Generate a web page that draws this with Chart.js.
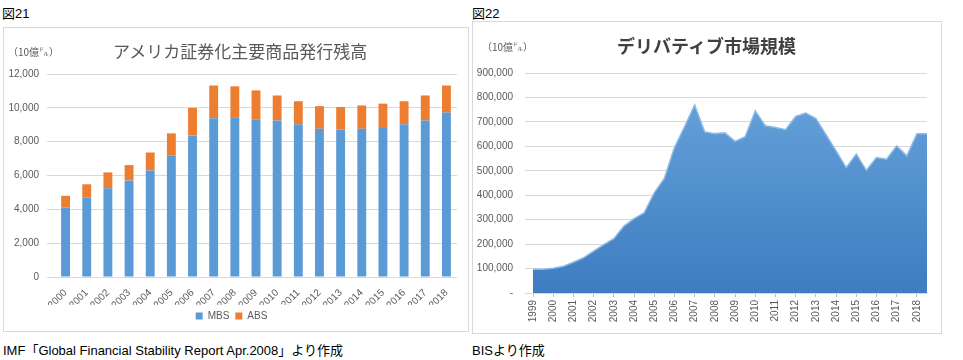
<!DOCTYPE html>
<html lang="ja">
<head>
<meta charset="UTF-8" />
<title>図21・図22</title>
<script src="https://cdn.jsdelivr.net/npm/chart.js"></script>
<style>
  body { margin: 0; width: 963px; height: 360px; background: #fff; position: relative; overflow: hidden;
         font-family: "Liberation Sans", "Noto Sans CJK JP", sans-serif; }
  .abs { position: absolute; white-space: nowrap; }
  .panel { position: absolute; border: 1px solid #d9d9d9; box-sizing: border-box; }
  .fig { font-size: 13px; color: #000; }
  .unit { font-size: 10px; color: #595959; font-family: "Noto Sans CJK JP", sans-serif; }
  .note { font-size: 13px; color: #000; }
  canvas { position: absolute; }
</style>
</head>
<body>
  <div class="abs fig" style="left:2px; top:3px;">図21</div>
  <div class="abs fig" style="left:472px; top:3px;">図22</div>

  <div class="panel" style="left:3px; top:27px; width:466px; height:305px;"></div>
  <div class="panel" style="left:472px; top:21px; width:470px; height:313px;"></div>

  <canvas id="chart21" width="466" height="305" style="left:3px; top:27px;"></canvas>
  <canvas id="chart22" width="470" height="313" style="left:472px; top:21px;"></canvas>

  <div class="abs unit" style="left:8px; top:44px;">（10億㌦）</div>
  <div class="abs" style="left:113px; top:38px; font-size:17px; color:#595959; font-family:'Noto Sans CJK JP';">アメリカ証券化主要商品発行残高</div>

  <div class="abs unit" style="left:482px; top:39px;">（10億㌦）</div>
  <div class="abs" style="left:617px; top:32px; font-size:18px; font-weight:bold; color:#404040; font-family:'Noto Sans CJK JP';">デリバティブ市場規模</div>

  <div class="abs note" style="left:3px; top:340px;">IMF「Global Financial Stability Report Apr.2008」より作成</div>
  <div class="abs note" style="left:472px; top:340px;">BISより作成</div>

<script>
  // 図21: アメリカ証券化主要商品発行残高（10億ドル）
  const years21 = ['2000', '2001', '2002', '2003', '2004', '2005', '2006', '2007', '2008', '2009',
                   '2010', '2011', '2012', '2013', '2014', '2015', '2016', '2017', '2018']
  const mbs = [4100, 4690, 5240, 5710, 6300, 7170, 8370, 9390, 9410, 9330,
               9250, 9030, 8760, 8720, 8760, 8810, 9030, 9250, 9720]
  const abs = [700, 790, 945, 905, 1060, 1320, 1630, 1930, 1860, 1700,
               1480, 1360, 1340, 1330, 1380, 1440, 1360, 1480, 1600]

  // 図22: デリバティブ市場規模（半期, 10億ドル）
  const periods22 = ['1999', '', '2000', '', '2001', '', '2002', '', '2003', '', '2004', '', '2005', '',
                     '2006', '', '2007', '', '2008', '', '2009', '', '2010', '', '2011', '', '2012', '',
                     '2013', '', '2014', '', '2015', '', '2016', '', '2017', '', '2018', '']
  const derivatives = [97000, 97000, 101000, 109000, 126000, 144000, 171000, 198000, 222000, 274000,
                       304000, 328000, 410000, 469000, 595000, 680000, 769000, 659000, 652000, 655000,
                       620000, 639000, 745000, 684000, 677000, 668000, 722000, 736000, 714000, 648000,
                       581000, 513000, 568000, 502000, 554000, 547000, 602000, 561000, 651000, 651000]

  const tickFont = { family: 'Liberation Sans', size: 10 }
  const tickColor = '#595959'
  const gridColor = '#d9d9d9'

  new Chart(document.getElementById('chart21'), {
    type: 'bar',
    data: {
      labels: years21,
      datasets: [
        { label: 'MBS', data: mbs, backgroundColor: '#5b9bd5', barPercentage: 0.42, categoryPercentage: 1 },
        { label: 'ABS', data: abs, backgroundColor: '#ed7d31', barPercentage: 0.42, categoryPercentage: 1 },
      ],
    },
    options: {
      responsive: false,
      animation: false,
      layout: { padding: { left: 3, right: 12, top: 47, bottom: 1 } },
      plugins: {
        legend: {
          position: 'bottom',
          labels: { boxWidth: 7, boxHeight: 7, padding: 6, color: tickColor, font: tickFont },
        },
        tooltip: { enabled: false },
      },
      scales: {
        x: {
          stacked: true,
          grid: { display: false },
          border: { display: false },
          ticks: { autoSkip: false, maxRotation: 45, minRotation: 45, padding: 2, color: tickColor, font: tickFont },
          afterFit: (s) => { s.height = 28 },
        },
        y: {
          stacked: true,
          min: 0,
          max: 12000,
          grid: { color: gridColor },
          border: { display: false },
          ticks: { stepSize: 2000, padding: 8, color: tickColor, font: tickFont,
                   callback: (v) => v.toLocaleString('en-US') },
          afterFit: (s) => { s.width = 49 },
        },
      },
    },
  })

  new Chart(document.getElementById('chart22'), {
    type: 'line',
    data: {
      labels: periods22,
      datasets: [
        {
          label: 'デリバティブ',
          data: derivatives,
          fill: 'origin',
          pointRadius: 0,
          borderWidth: 1.5,
          borderColor: '#8dbbe6',
          backgroundColor: (ctx) => {
            const area = ctx.chart.chartArea
            if (!area) return '#5b9bd5'
            const g = ctx.chart.ctx.createLinearGradient(0, area.top, 0, area.bottom)
            g.addColorStop(0, '#6aa6dd')
            g.addColorStop(1, '#3d7cc0')
            return g
          },
        },
      ],
    },
    options: {
      responsive: false,
      animation: false,
      layout: { padding: { left: 2, right: 7, top: 52, bottom: 5 } },
      plugins: { legend: { display: false }, tooltip: { enabled: false } },
      scales: {
        x: {
          grid: { drawOnChartArea: false, tickLength: 4,
                  color: (c) => (c.index % 2 === 0 ? '#bfbfbf' : 'rgba(0,0,0,0)') },
          border: { color: gridColor },
          ticks: { autoSkip: false, maxRotation: 90, minRotation: 90, padding: 3, color: tickColor, font: tickFont },
          afterFit: (s) => { s.height = 36 },
        },
        y: {
          min: 0,
          max: 900000,
          grid: { color: gridColor },
          border: { display: false },
          ticks: { stepSize: 100000, padding: 12, color: tickColor, font: tickFont,
                   callback: (v) => (v === 0 ? '-' : v.toLocaleString('en-US')) },
          afterFit: (s) => { s.width = 59 },
        },
      },
    },
  })
</script>
</body>
</html>
